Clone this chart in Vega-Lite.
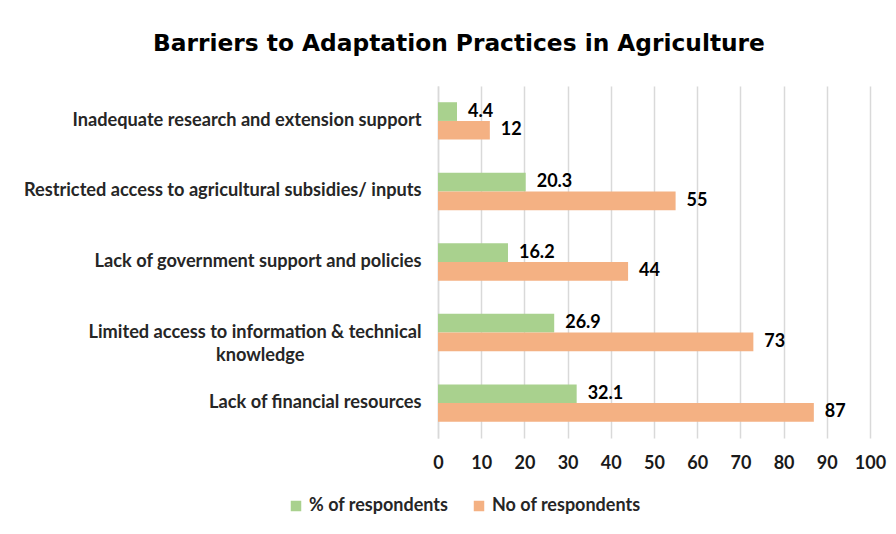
{
  "$schema": "https://vega.github.io/schema/vega-lite/v6.json",
  "width": 432,
  "height": 352,
  "autosize": {"type": "none"},
  "padding": {"left": 438, "top": 86, "right": 26, "bottom": 96},
  "background": "white",
  "title": {
    "text": "Barriers to Adaptation Practices in Agriculture",
    "font": "DejaVu Sans",
    "fontSize": 23.3,
    "fontWeight": "bold",
    "color": "#000000",
    "anchor": "middle",
    "frame": "group",
    "dx": -195,
    "offset": 30
  },
  "data": {
    "values": [
      {"category": "Inadequate research and extension support", "series": "% of respondents", "value": 4.4},
      {"category": "Inadequate research and extension support", "series": "No of respondents", "value": 12},
      {"category": "Restricted access to agricultural subsidies/ inputs", "series": "% of respondents", "value": 20.3},
      {"category": "Restricted access to agricultural subsidies/ inputs", "series": "No of respondents", "value": 55},
      {"category": "Lack of government support and policies", "series": "% of respondents", "value": 16.2},
      {"category": "Lack of government support and policies", "series": "No of respondents", "value": 44},
      {"category": "Limited access to information & technical knowledge", "series": "% of respondents", "value": 26.9},
      {"category": "Limited access to information & technical knowledge", "series": "No of respondents", "value": 73},
      {"category": "Lack of financial resources", "series": "% of respondents", "value": 32.1},
      {"category": "Lack of financial resources", "series": "No of respondents", "value": 87}
    ]
  },
  "encoding": {
    "y": {
      "field": "category",
      "type": "nominal",
      "sort": [
        "Inadequate research and extension support",
        "Restricted access to agricultural subsidies/ inputs",
        "Lack of government support and policies",
        "Limited access to information & technical knowledge",
        "Lack of financial resources"
      ],
      "scale": {"paddingInner": 0.47, "paddingOuter": 0.23},
      "axis": {
        "title": null,
        "domainColor": "#D9D9D9",
        "domainWidth": 1.5,
        "ticks": false,
        "grid": false,
        "labelPadding": 17,
        "labelFont": "Lato",
        "labelFontSize": 18.2,
        "labelFontWeight": "bold",
        "labelColor": "#262626",
        "labelLimit": 500,
        "labelLineHeight": 23,
        "labelExpr": "datum.value == 'Limited access to information & technical knowledge' ? ['Limited access to information & technical', 'knowledge\u2800\u2800\u2800\u2800\u2800\u2800\u2800\u2800\u2800'] : datum.value"
      }
    },
    "yOffset": {
      "field": "series",
      "type": "nominal",
      "sort": ["% of respondents", "No of respondents"]
    },
    "x": {
      "field": "value",
      "type": "quantitative",
      "scale": {"domain": [0, 100], "nice": false},
      "axis": {
        "title": null,
        "values": [0, 10, 20, 30, 40, 50, 60, 70, 80, 90, 100],
        "domain": false,
        "ticks": false,
        "grid": true,
        "gridColor": "#D9D9D9",
        "gridWidth": 1.5,
        "labelPadding": 16,
        "labelFlush": false,
        "labelOverlap": false,
        "labelFont": "Lato",
        "labelFontSize": 18,
        "labelFontWeight": "bold",
        "labelColor": "#1a1a1a"
      }
    }
  },
  "layer": [
    {
      "mark": {"type": "bar"},
      "encoding": {
        "color": {
          "field": "series",
          "type": "nominal",
          "scale": {"domain": ["% of respondents", "No of respondents"], "range": ["#A9D18E", "#F4B183"]},
          "legend": {
            "title": null,
            "orient": "none",
            "direction": "horizontal",
            "legendX": -151,
            "legendY": 411,
            "symbolType": "square",
            "symbolSize": 110,
            "symbolStrokeWidth": 0,
            "columnPadding": 21,
            "labelFont": "Lato",
            "labelFontSize": 18,
            "labelFontWeight": "bold",
            "labelColor": "#262626",
            "labelOffset": 4,
            "labelLimit": 300
          }
        }
      }
    },
    {
      "mark": {"type": "text", "align": "left", "baseline": "middle", "dx": 11, "font": "Lato", "fontSize": 18, "fontWeight": "bold", "color": "#000000"},
      "encoding": {
        "text": {"field": "value", "type": "quantitative"}
      }
    }
  ],
  "config": {
    "view": {"stroke": null}
  }
}
